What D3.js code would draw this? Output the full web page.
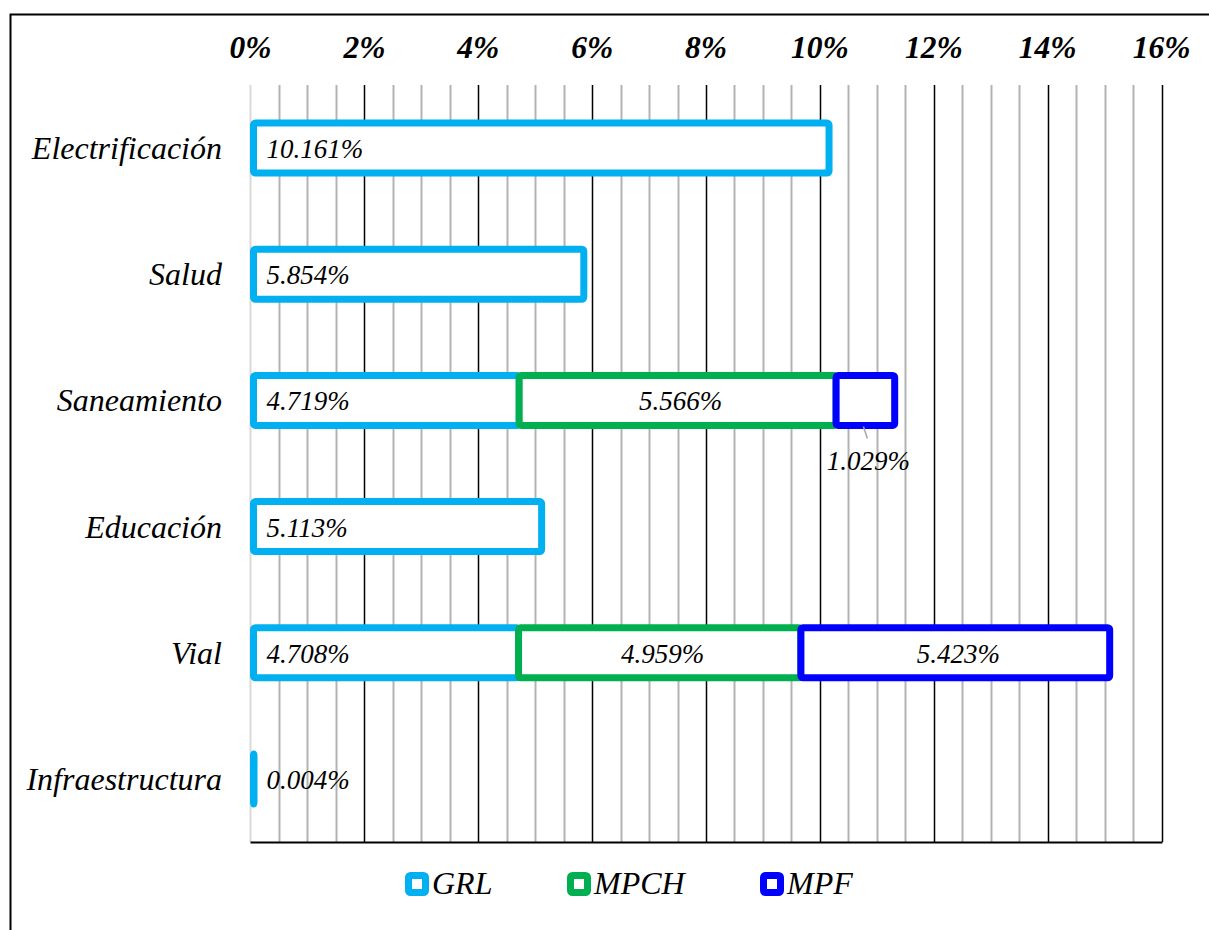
<!DOCTYPE html>
<html>
<head>
<meta charset="utf-8">
<script src="https://cdn.jsdelivr.net/npm/d3@7"></script>
<style>
  body { margin: 0; background: #fff; }
  svg text { font-family: "Times New Roman", "Liberation Serif", serif; font-style: italic; }
</style>
</head>
<body>
<script>
// chart data
var categories = ["Electrificación", "Salud", "Saneamiento", "Educación", "Vial", "Infraestructura"];
var seriesNames = ["GRL", "MPCH", "MPF"];
var seriesColors = ["#00b0f0", "#00b050", "#0000ff"];
var grl = [10.161, 5.854, 4.719, 5.113, 4.708, 0.004];
var mpch = [0, 0, 5.566, 0, 4.959, 0];
var mpf = [0, 0, 1.029, 0, 5.423, 0];
var tickValues = [0, 2, 4, 6, 8, 10, 12, 14, 16];

var W = 1209, H = 930;
var svg = d3.select("body").append("svg").attr("width", W).attr("height", H);

// outer frame (right/bottom edges fall outside the picture)
svg.append("rect")
  .attr("x", 10.5).attr("y", 14.5).attr("width", 1240).attr("height", 960)
  .attr("fill", "none").attr("stroke", "#000").attr("stroke-width", 2);

var plotL = 250.5, plotR = 1161.5, plotT = 85, plotB = 842;

var x = d3.scaleLinear().domain([0, 16]).range([plotL, plotR]);
var y = d3.scaleBand().domain(categories).range([plotT, plotB]).paddingInner(0).paddingOuter(0);

// minor gridlines every 0.5%
var minor = d3.range(0.5, 16, 0.5).filter(function(v) { return v % 2 !== 0; });
svg.append("g").selectAll("line").data(minor).enter().append("line")
  .attr("x1", function(d) { return Math.round(x(d)) + 0.5; })
  .attr("x2", function(d) { return Math.round(x(d)) + 0.5; })
  .attr("y1", plotT).attr("y2", plotB)
  .attr("stroke", "#b3b3b3").attr("stroke-width", 2);

// major gridlines
svg.append("g").selectAll("line").data(tickValues.slice(1)).enter().append("line")
  .attr("x1", function(d) { return Math.round(x(d)) + 0.5; })
  .attr("x2", function(d) { return Math.round(x(d)) + 0.5; })
  .attr("y1", plotT).attr("y2", plotB)
  .attr("stroke", "#000").attr("stroke-width", 1.5);

// zero line (light)
svg.append("line")
  .attr("x1", x(0)).attr("x2", x(0)).attr("y1", plotT).attr("y2", plotB)
  .attr("stroke", "#d9d9d9").attr("stroke-width", 2);

// bottom axis line
svg.append("line")
  .attr("x1", x(0)).attr("x2", x(16) + 1).attr("y1", plotB + 0.5).attr("y2", plotB + 0.5)
  .attr("stroke", "#000").attr("stroke-width", 2);

// top tick labels
svg.append("g").selectAll("text").data(tickValues).enter().append("text")
  .attr("x", function(d) { return x(d); })
  .attr("y", 58)
  .attr("text-anchor", "middle")
  .attr("font-size", 31.5)
  .attr("font-weight", "bold")
  .text(function(d) { return d + "%"; });

// category labels
svg.append("g").selectAll("text").data(categories).enter().append("text")
  .attr("x", 222)
  .attr("y", function(d) { return y(d) + y.bandwidth() / 2 + 11; })
  .attr("text-anchor", "end")
  .attr("font-size", 32)
  .text(function(d) { return d; });

// stacked segments
var rows = categories.map(function(c, i) {
  return { cat: c, GRL: grl[i], MPCH: mpch[i], MPF: mpf[i] };
});
var stack = d3.stack().keys(seriesNames)(rows);

var barH = 50;
var sw = 7;
stack.forEach(function(layer, si) {
  var g = svg.append("g");
  var segs = layer.filter(function(d) { return d[1] - d[0] > 0; });
  g.selectAll("rect").data(segs).enter().append("rect")
    .attr("x", function(d) { return x(d[0]) + (d[0] === 0 ? 3 : 0); })
    .attr("y", function(d) { return y(d.data.cat) + y.bandwidth() / 2 - barH / 2; })
    .attr("width", function(d) { return Math.max(0.5, x(d[1]) - x(d[0]) - (d[0] === 0 ? 3 : 0)); })
    .attr("height", barH)
    .attr("rx", 2)
    .attr("fill", "#fff")
    .attr("stroke", seriesColors[si])
    .attr("stroke-width", sw);
});

// data labels
stack.forEach(function(layer, si) {
  var segs = layer.filter(function(d) { return d[1] - d[0] > 0; });
  svg.append("g").selectAll("text").data(segs).enter().append("text")
    .attr("font-size", 27)
    .attr("x", function(d) {
      if (si === 0) return x(0) + 16;
      return (x(d[0]) + x(d[1])) / 2 + 3;
    })
    .attr("y", function(d) {
      var cy = y(d.data.cat) + y.bandwidth() / 2;
      if (si > 0 && d[1] - d[0] < 2) return cy + 70;
      return cy + 10;
    })
    .attr("text-anchor", si === 0 ? "start" : "middle")
    .text(function(d) { return (d[1] - d[0]).toFixed(3) + "%"; });

  // leader lines for small segments
  svg.append("g").selectAll("line")
    .data(segs.filter(function(d) { return si > 0 && d[1] - d[0] < 2; }))
    .enter().append("line")
    .attr("x1", function(d) { return (x(d[0]) + x(d[1])) / 2 - 2; })
    .attr("x2", function(d) { return (x(d[0]) + x(d[1])) / 2 + 2; })
    .attr("y1", function(d) { return y(d.data.cat) + y.bandwidth() / 2 + 26; })
    .attr("y2", function(d) { return y(d.data.cat) + y.bandwidth() / 2 + 38; })
    .attr("stroke", "#a6a6a6").attr("stroke-width", 1.5);
});

// legend
var legendX = [405, 567, 760];
var lg = svg.append("g").selectAll("g").data(seriesNames).enter().append("g")
  .attr("transform", function(d, i) { return "translate(" + legendX[i] + ",872)"; });
lg.append("rect")
  .attr("x", 3.5).attr("y", 3.5).attr("width", 17).attr("height", 17).attr("rx", 2)
  .attr("fill", "#fff")
  .attr("stroke", function(d, i) { return seriesColors[i]; })
  .attr("stroke-width", 7);
lg.append("text")
  .attr("x", 27).attr("y", 22)
  .attr("font-size", 32)
  .text(function(d) { return d; });
</script>
</body>
</html>
